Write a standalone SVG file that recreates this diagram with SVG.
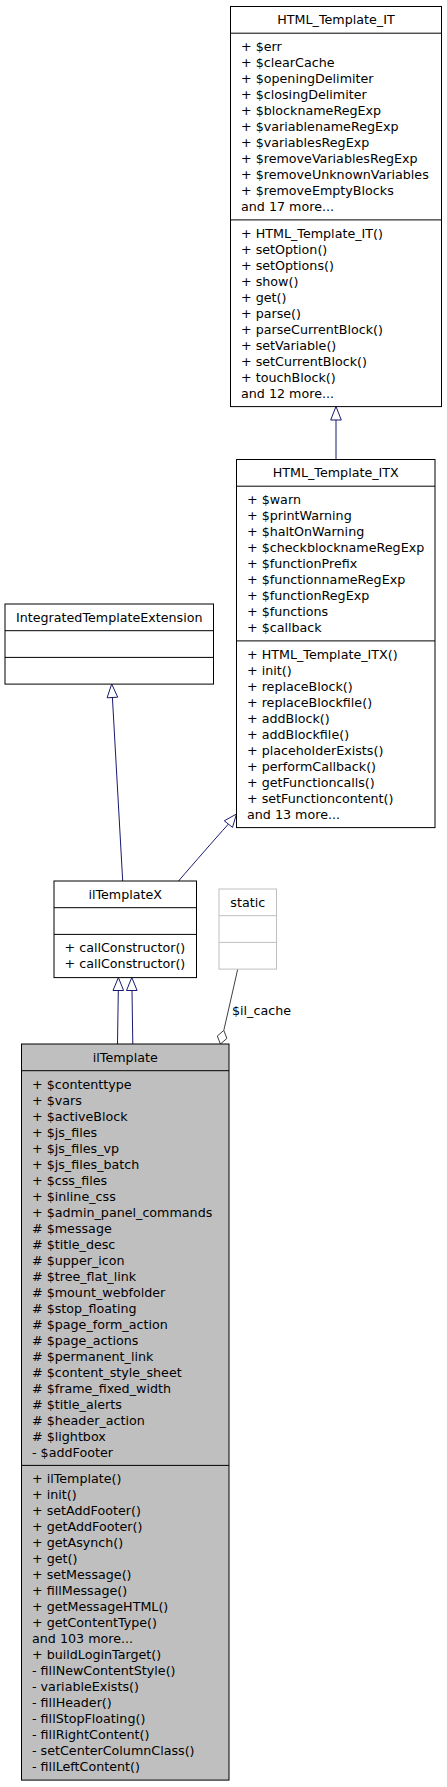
<svg xmlns="http://www.w3.org/2000/svg" width="447" height="1787" viewBox="0 0 447 1787">
<style>
.box{fill:#ffffff;stroke:#000000;stroke-width:1}
.focus{fill:#bfbfbf;stroke:#000000;stroke-width:1}
.gbox{fill:#ffffff;stroke:#bfbfbf;stroke-width:1}
.sep{stroke:#000000;stroke-width:1}
.gsep{stroke:#bfbfbf;stroke-width:1}
text{font-family:"DejaVu Sans","Liberation Sans",sans-serif;font-size:12.7px;fill:#000000}
.c{text-anchor:middle}
.edge{fill:none;stroke:#191970;stroke-width:1}
.arrow{fill:#ffffff;stroke:#191970;stroke-width:1}
.use{fill:none;stroke:#404040;stroke-width:1}
.dia{fill:#ffffff;stroke:#404040;stroke-width:1}
</style>
<rect width="447" height="1787" fill="#ffffff"/>
<g id="connectors">
  <path class="edge" d="M336,459.5 L336,420"/>
  <polygon class="arrow" points="330.7,420 336,406.5 341.3,420"/>
  <path class="edge" d="M122.7,881 L112.4,697.5"/>
  <polygon class="arrow" points="117.7,697.2 111.7,684 107.1,697.8"/>
  <path class="edge" d="M178.5,881 C195,862 214,840 228.4,824.1"/>
  <polygon class="arrow" points="232.5,827.4 236.5,814 224.3,820.8"/>
  <path class="edge" d="M117.5,1044 L118.3,990.5"/>
  <polygon class="arrow" points="113,990.5 118.4,977.5 123.6,990.5"/>
  <path class="edge" d="M132.8,1044 L132,990.5"/>
  <polygon class="arrow" points="126.5,990.5 131.8,977.5 137.1,990.5"/>
  <path class="use" d="M237.7,969.3 L223.8,1030.4"/>
  <polygon class="dia" points="223.8,1030.4 226.9,1038.4 220.4,1044 217.3,1036"/>
  <text x="232" y="1015">$il_cache</text>
</g>
<g id="HTML_Template_IT">
  <rect class="box" x="230.5" y="6.5" width="211" height="400.1"/>
  <line class="sep" x1="230.5" y1="33.2" x2="441.5" y2="33.2"/>
  <line class="sep" x1="230.5" y1="219.9" x2="441.5" y2="219.9"/>
  <text class="c" x="336" y="24.3">HTML_Template_IT</text>
  <text x="241" y="51"><tspan x="241" dy="0">+ $err</tspan><tspan x="241" dy="16">+ $clearCache</tspan><tspan x="241" dy="16">+ $openingDelimiter</tspan><tspan x="241" dy="16">+ $closingDelimiter</tspan><tspan x="241" dy="16">+ $blocknameRegExp</tspan><tspan x="241" dy="16">+ $variablenameRegExp</tspan><tspan x="241" dy="16">+ $variablesRegExp</tspan><tspan x="241" dy="16">+ $removeVariablesRegExp</tspan><tspan x="241" dy="16">+ $removeUnknownVariables</tspan><tspan x="241" dy="16">+ $removeEmptyBlocks</tspan><tspan x="241" dy="16">and 17 more...</tspan></text>
  <text x="241" y="237.7"><tspan x="241" dy="0">+ HTML_Template_IT()</tspan><tspan x="241" dy="16">+ setOption()</tspan><tspan x="241" dy="16">+ setOptions()</tspan><tspan x="241" dy="16">+ show()</tspan><tspan x="241" dy="16">+ get()</tspan><tspan x="241" dy="16">+ parse()</tspan><tspan x="241" dy="16">+ parseCurrentBlock()</tspan><tspan x="241" dy="16">+ setVariable()</tspan><tspan x="241" dy="16">+ setCurrentBlock()</tspan><tspan x="241" dy="16">+ touchBlock()</tspan><tspan x="241" dy="16">and 12 more...</tspan></text>
</g>
<g id="HTML_Template_ITX">
  <rect class="box" x="236.5" y="459.5" width="198.5" height="368.1"/>
  <line class="sep" x1="236.5" y1="486.2" x2="435" y2="486.2"/>
  <line class="sep" x1="236.5" y1="640.9" x2="435" y2="640.9"/>
  <text class="c" x="335.75" y="477.3">HTML_Template_ITX</text>
  <text x="247" y="504"><tspan x="247" dy="0">+ $warn</tspan><tspan x="247" dy="16">+ $printWarning</tspan><tspan x="247" dy="16">+ $haltOnWarning</tspan><tspan x="247" dy="16">+ $checkblocknameRegExp</tspan><tspan x="247" dy="16">+ $functionPrefix</tspan><tspan x="247" dy="16">+ $functionnameRegExp</tspan><tspan x="247" dy="16">+ $functionRegExp</tspan><tspan x="247" dy="16">+ $functions</tspan><tspan x="247" dy="16">+ $callback</tspan></text>
  <text x="247" y="658.7"><tspan x="247" dy="0">+ HTML_Template_ITX()</tspan><tspan x="247" dy="16">+ init()</tspan><tspan x="247" dy="16">+ replaceBlock()</tspan><tspan x="247" dy="16">+ replaceBlockfile()</tspan><tspan x="247" dy="16">+ addBlock()</tspan><tspan x="247" dy="16">+ addBlockfile()</tspan><tspan x="247" dy="16">+ placeholderExists()</tspan><tspan x="247" dy="16">+ performCallback()</tspan><tspan x="247" dy="16">+ getFunctioncalls()</tspan><tspan x="247" dy="16">+ setFunctioncontent()</tspan><tspan x="247" dy="16">and 13 more...</tspan></text>
</g>
<g id="IntegratedTemplateExtension">
  <rect class="box" x="5" y="604" width="208.5" height="80.1"/>
  <line class="sep" x1="5" y1="630.7" x2="213.5" y2="630.7"/>
  <line class="sep" x1="5" y1="657.4" x2="213.5" y2="657.4"/>
  <text class="c" x="109.25" y="621.8">IntegratedTemplateExtension</text>
</g>
<g id="ilTemplateX">
  <rect class="box" x="54" y="881" width="142.5" height="96.6"/>
  <line class="sep" x1="54" y1="907.7" x2="196.5" y2="907.7"/>
  <line class="sep" x1="54" y1="934.4" x2="196.5" y2="934.4"/>
  <text class="c" x="125.25" y="898.8">ilTemplateX</text>
  <text x="64.5" y="952.2"><tspan x="64.5" dy="0">+ callConstructor()</tspan><tspan x="64.5" dy="16">+ callConstructor()</tspan></text>
</g>
<g id="static">
  <rect class="gbox" x="219" y="889" width="57.5" height="80.1"/>
  <line class="gsep" x1="219" y1="915.7" x2="276.5" y2="915.7"/>
  <line class="gsep" x1="219" y1="942.4" x2="276.5" y2="942.4"/>
  <text class="c" x="247.75" y="906.8">static</text>
</g>
<g id="ilTemplate">
  <rect class="focus" x="21.5" y="1044" width="207.5" height="736.1"/>
  <line class="sep" x1="21.5" y1="1070.7" x2="229" y2="1070.7"/>
  <line class="sep" x1="21.5" y1="1465.4" x2="229" y2="1465.4"/>
  <text class="c" x="125.25" y="1061.8">ilTemplate</text>
  <text x="32" y="1088.5"><tspan x="32" dy="0">+ $contenttype</tspan><tspan x="32" dy="16">+ $vars</tspan><tspan x="32" dy="16">+ $activeBlock</tspan><tspan x="32" dy="16">+ $js_files</tspan><tspan x="32" dy="16">+ $js_files_vp</tspan><tspan x="32" dy="16">+ $js_files_batch</tspan><tspan x="32" dy="16">+ $css_files</tspan><tspan x="32" dy="16">+ $inline_css</tspan><tspan x="32" dy="16">+ $admin_panel_commands</tspan><tspan x="32" dy="16"># $message</tspan><tspan x="32" dy="16"># $title_desc</tspan><tspan x="32" dy="16"># $upper_icon</tspan><tspan x="32" dy="16"># $tree_flat_link</tspan><tspan x="32" dy="16"># $mount_webfolder</tspan><tspan x="32" dy="16"># $stop_floating</tspan><tspan x="32" dy="16"># $page_form_action</tspan><tspan x="32" dy="16"># $page_actions</tspan><tspan x="32" dy="16"># $permanent_link</tspan><tspan x="32" dy="16"># $content_style_sheet</tspan><tspan x="32" dy="16"># $frame_fixed_width</tspan><tspan x="32" dy="16"># $title_alerts</tspan><tspan x="32" dy="16"># $header_action</tspan><tspan x="32" dy="16"># $lightbox</tspan><tspan x="32" dy="16">- $addFooter</tspan></text>
  <text x="32" y="1483.2"><tspan x="32" dy="0">+ ilTemplate()</tspan><tspan x="32" dy="16">+ init()</tspan><tspan x="32" dy="16">+ setAddFooter()</tspan><tspan x="32" dy="16">+ getAddFooter()</tspan><tspan x="32" dy="16">+ getAsynch()</tspan><tspan x="32" dy="16">+ get()</tspan><tspan x="32" dy="16">+ setMessage()</tspan><tspan x="32" dy="16">+ fillMessage()</tspan><tspan x="32" dy="16">+ getMessageHTML()</tspan><tspan x="32" dy="16">+ getContentType()</tspan><tspan x="32" dy="16">and 103 more...</tspan><tspan x="32" dy="16">+ buildLoginTarget()</tspan><tspan x="32" dy="16">- fillNewContentStyle()</tspan><tspan x="32" dy="16">- variableExists()</tspan><tspan x="32" dy="16">- fillHeader()</tspan><tspan x="32" dy="16">- fillStopFloating()</tspan><tspan x="32" dy="16">- fillRightContent()</tspan><tspan x="32" dy="16">- setCenterColumnClass()</tspan><tspan x="32" dy="16">- fillLeftContent()</tspan></text>
</g>
</svg>
